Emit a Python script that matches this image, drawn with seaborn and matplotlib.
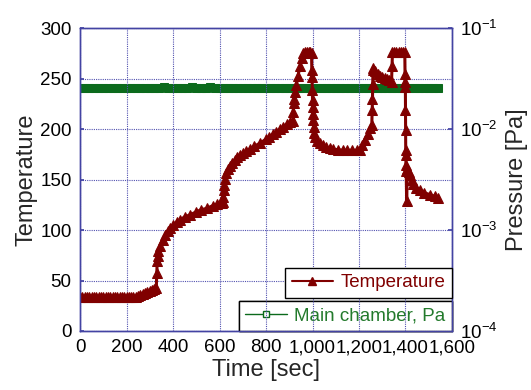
import matplotlib
matplotlib.use("Agg")
import matplotlib.pyplot as plt
from matplotlib.lines import Line2D
from matplotlib.ticker import FuncFormatter, NullLocator, LogLocator
import seaborn as sns
import pandas as pd

# temperature trace (time in sec, temperature)
temp_time = [
    0, 10, 20, 30, 40, 50, 60, 70, 80, 90, 100, 110, 120, 130, 140, 150, 160, 170, 180, 190, 200, 210, 220, 230, 240,
    250, 260, 270, 280, 290, 300, 310, 320, 328,
    330, 332, 334, 336, 344, 355, 366, 377, 387, 400, 415, 430, 450, 473, 500, 520, 545, 570, 590, 609, 615,
    617, 619, 621, 623, 630, 638, 645, 655, 665, 677, 688, 700, 715, 730, 750, 774, 800, 815, 830, 845, 860, 875, 890, 905, 915,
    917, 919, 921, 926, 931, 938, 946, 953, 960, 967, 975, 983, 990, 996,
    997, 998, 999, 1000, 1001, 1002, 1003, 1005, 1008, 1011, 1020, 1032, 1045, 1060, 1075, 1090, 1110, 1130, 1150, 1170, 1190,
    1204, 1215, 1226, 1237, 1247, 1255,
    1257, 1258, 1259, 1260, 1262, 1270, 1280, 1290, 1300, 1310, 1320, 1330, 1340,
    1342, 1344, 1352, 1360, 1370, 1380, 1390, 1397,
    1398, 1399, 1399.5, 1400, 1400.5, 1401, 1401.5, 1402, 1403, 1405, 1408, 1413, 1419, 1426, 1434, 1445, 1462, 1480, 1505, 1525, 1540,
]
temperature = [
    34, 34, 34, 34, 34, 34, 34, 34, 34, 34, 34, 34, 34, 34, 34, 34, 34, 34, 34, 34, 34, 34, 34, 34, 34,
    35, 36, 37, 38, 39, 40, 41, 42, 43,
    57, 69, 74, 79, 84, 90, 95, 99, 102, 105, 108, 110, 113, 115, 118, 120, 121.5, 124, 125.5, 127, 128,
    133, 140, 145, 151, 156, 160, 163, 166, 169, 172, 174, 176, 178, 180, 183, 186, 190, 192.5, 195, 197.5, 200, 202.5, 205, 207, 208,
    217, 226, 230, 237, 244, 253, 262, 270, 275, 276, 276, 276, 276, 275,
    258, 252, 239, 229, 222, 215, 209, 202, 196, 192, 188, 186, 184, 182, 181, 180, 179.5, 179, 179, 179, 179,
    179.5, 184, 189, 195, 201, 204,
    219, 230, 245, 258, 260, 257, 255, 253, 252, 251, 250, 249, 247,
    262, 276, 276.5, 276.5, 276.5, 276.5, 276.5, 276,
    255, 247, 242, 219, 199, 179, 174, 164, 158, 129, 160, 157, 154, 150, 146, 142, 139.5, 137, 135, 133.5, 132,
]

# main chamber pressure (Pa), one reading every 20 sec
pres_time = list(range(0, 1541, 20))
pressure = [
    0.0255, 0.0254, 0.0255, 0.0255, 0.0254, 0.0255, 0.0255, 0.0256, 0.0255, 0.0254,
    0.0255, 0.0256, 0.0255, 0.0254, 0.0257, 0.0255, 0.0253, 0.0256, 0.0258, 0.0255,
    0.0253, 0.0257, 0.0256, 0.0254, 0.0258, 0.0255, 0.0253, 0.0256, 0.0258, 0.0254,
    0.0255, 0.0257, 0.0255, 0.0256, 0.0255, 0.0254, 0.0256, 0.0255, 0.0255, 0.0254,
    0.0255, 0.0256, 0.0255, 0.0255, 0.0254, 0.0255, 0.0256, 0.0255, 0.0254, 0.0255,
    0.0255, 0.0256, 0.0255, 0.0254, 0.0255, 0.0255, 0.0256, 0.0255, 0.0254, 0.0255,
    0.0253, 0.0255, 0.0256, 0.0255, 0.0254, 0.0256, 0.0255, 0.0254, 0.0255, 0.0256,
    0.0255, 0.0254, 0.0255, 0.0255, 0.0256, 0.0255, 0.0254, 0.0255,
]

temp_df = pd.DataFrame({"time": temp_time, "temperature": temperature})
pres_df = pd.DataFrame({"time": pres_time, "pressure": pressure})

red = "#800000"
green = "#0b6a1c"
grid_col = "#5252b0"
spine_col = "#4343a3"

sns.set_theme(style="white")
plt.rcParams["font.family"] = ["Liberation Sans", "DejaVu Sans"]

fig = plt.figure(figsize=(5.31, 3.9), dpi=100)
ax = fig.add_axes([0.1507, 0.1513, 0.7005, 0.7767])
ax2 = ax.twinx()

sns.lineplot(data=pres_df, x="time", y="pressure", ax=ax2, color=green, linewidth=3.5,
             marker="s", markersize=5.5, markeredgecolor=green, markerfacecolor=green,
             estimator=None, sort=False)
sns.lineplot(data=temp_df, x="time", y="temperature", ax=ax, color=red, linewidth=2.2,
             marker="^", markersize=6.5, markeredgecolor=red, markerfacecolor=red,
             estimator=None, sort=False)

# temperature drawn above pressure
ax.set_zorder(ax2.get_zorder() + 1)
ax.patch.set_visible(False)

ax.set_xlim(0, 1600)
ax.set_ylim(0, 300)
ax.set_xticks(range(0, 1601, 200))
ax.set_yticks(range(0, 301, 50))
ax.xaxis.set_major_formatter(FuncFormatter(lambda v, p: f"{v:,.0f}"))
ax.grid(True, color=grid_col, linestyle=(0, (1, 1)), linewidth=0.8)

ax2.set_yscale("log")
ax2.set_ylim(1e-4, 1e-1)
ax2.yaxis.set_major_locator(LogLocator(base=10, numticks=10))
ax2.yaxis.set_minor_locator(NullLocator())

ax.tick_params(axis="both", direction="in", length=3, labelsize=13.5, colors=spine_col, labelcolor="black", pad=6)
ax2.tick_params(axis="y", direction="in", length=3, labelsize=13.5, colors=spine_col, labelcolor="black", pad=6)

ax.set_xlabel("Time [sec]", fontsize=17, labelpad=2)
ax.set_ylabel("Temperature", fontsize=17, labelpad=2)
ax2.set_ylabel("Pressure [Pa]", fontsize=17, labelpad=6)

for a in (ax, ax2):
    for s in a.spines.values():
        s.set_color(spine_col)
        s.set_linewidth(1.0)

h_temp = Line2D([], [], color=red, linewidth=1.5, marker="^", markersize=5.5)
h_pres = Line2D([], [], color=green, linewidth=1.0, marker="s", markersize=5,
                markerfacecolor="white", markeredgecolor=green)

leg2 = ax2.legend(handles=[h_pres], labels=["Main chamber, Pa"], loc="lower right",
                  bbox_to_anchor=(1.0, 0.0), borderaxespad=0, fontsize=13.5, fancybox=False,
                  framealpha=1, edgecolor="black", handlelength=2.2, handletextpad=0.4,
                  borderpad=0.35)
leg2.get_frame().set_linewidth(1.0)
for t in leg2.get_texts():
    t.set_color("#237a2c")
ax2.add_artist(leg2)

leg1 = ax.legend(handles=[h_temp], labels=["Temperature"], loc="lower right",
                 bbox_to_anchor=(1.0, 0.109), borderaxespad=0, fontsize=13.5, fancybox=False,
                 framealpha=1, edgecolor="black", handlelength=2.2, handletextpad=0.4,
                 borderpad=0.35)
leg1.get_frame().set_linewidth(1.0)
for t in leg1.get_texts():
    t.set_color(red)

fig.savefig("out.png", dpi=100)
